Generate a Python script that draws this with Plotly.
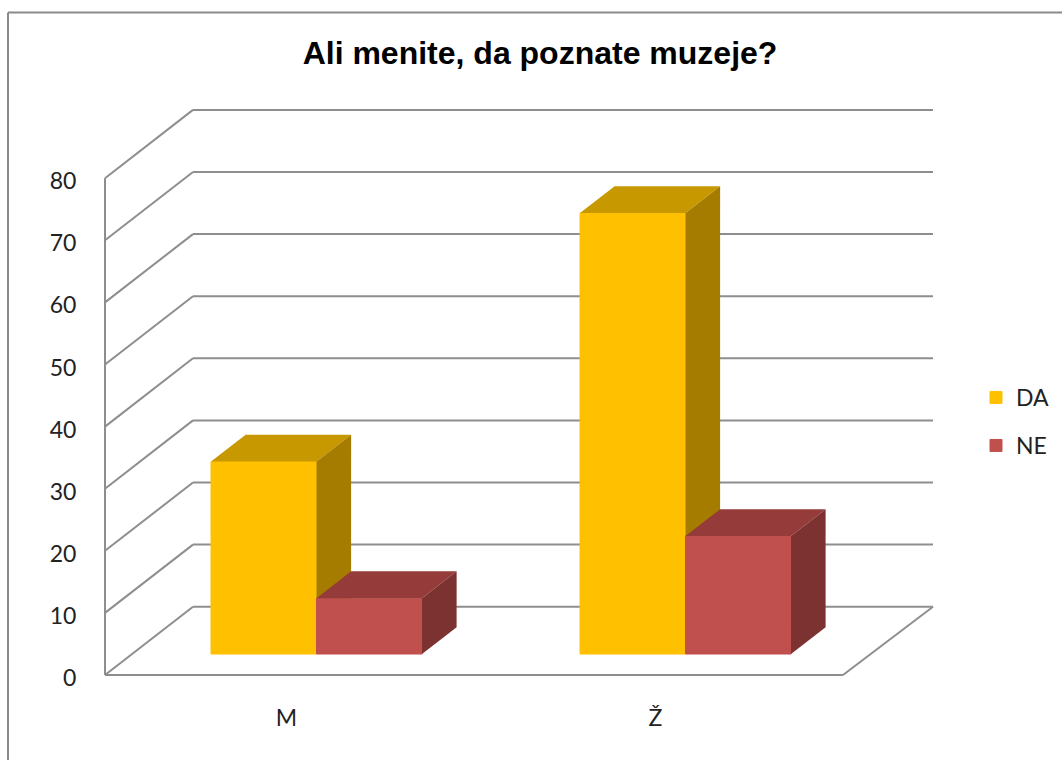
import plotly.graph_objects as go

# Data
categories = ["M", "Ž"]
series_names = ["DA", "NE"]
da_values = [31, 71]
ne_values = [9, 19]
y_ticks = [0, 10, 20, 30, 40, 50, 60, 70, 80]
title_text = "Ali menite, da poznate muzeje?"

# Pixel layout of the plot box (slightly larger than the drawn frame, so edge lines are not clipped)
W, H = 1062, 760
L, R, T, B = 100, 940, 100, 680
ZERO_PX, CAT0_PX = 675, 289.5
PX_PER_UNIT = 6.21
PX_PER_CAT = 369
# Pseudo-3D depth of the wall, in data units
DEPTH_X = 88 / PX_PER_CAT
DEPTH_Y = 68.3 / PX_PER_UNIT
BAR_D0 = 0.307      # depth of bar front face
BAR_D1 = 0.70       # depth of bar back face
BAR_W = 105.5 / PX_PER_CAT

y_lo = (ZERO_PX - B) / PX_PER_UNIT
y_hi = (ZERO_PX - T) / PX_PER_UNIT
x_lo = (L - CAT0_PX) / PX_PER_CAT
x_hi = (R - CAT0_PX) / PX_PER_CAT
front_x_lo, front_x_hi = -0.5, 1.5
back_extra = 2 / PX_PER_CAT


def proj(x, v, d):
    return x + d * DEPTH_X, v + d * DEPTH_Y


GRID = "#8e8e8e"
shapes = []


def seg(p, q, width=2):
    shapes.append(dict(type="line", layer="below", xref="x", yref="y",
                       x0=p[0], y0=p[1], x1=q[0], y1=q[1],
                       line=dict(color=GRID, width=width)))


for t in y_ticks:
    seg(proj(front_x_lo, t, 0), proj(front_x_lo, t, 1))
    seg(proj(front_x_lo, t, 1), proj(front_x_hi + back_extra, t, 1))
seg(proj(front_x_lo, 0, 0), proj(front_x_lo, y_ticks[-1], 0))
seg(proj(front_x_lo, 0, 0), proj(front_x_hi, 0, 0))
seg(proj(front_x_hi, 0, 0), proj(front_x_hi + back_extra, 0, 1))

# Outer chart frame (top and left edges visible)
fx = lambda px: (px - L) / (R - L)
fy = lambda py: (B - py) / (B - T)
for x0, y0, x1, y1 in [(8, 12.5, W, 12.5), (8, 12.5, 8, H)]:
    shapes.append(dict(type="line", xref="paper", yref="paper",
                       x0=fx(x0), y0=fy(y0), x1=fx(x1), y1=fy(y1),
                       line=dict(color="#8a8a8a", width=2)))

base_level = BAR_D0 * DEPTH_Y
shift = BAR_D0 * DEPTH_X
styles = [
    dict(name=series_names[0], vals=da_values, off=-BAR_W / 2, front="#FFC000",
         top="#C89800", side="#A67C00", xa="x", ya="y", legend="legend"),
    dict(name=series_names[1], vals=ne_values, off=BAR_W / 2, front="#C0504D",
         top="#953B39", side="#7C3230", xa="x2", ya="y2", legend="legend2"),
]

fig = go.Figure()
for s in styles:
    xs = [i + shift + s["off"] for i in range(len(categories))]
    fig.add_trace(go.Bar(x=xs, y=s["vals"], base=base_level, width=BAR_W, name=s["name"],
                         legend=s["legend"],
                         marker=dict(color=s["front"], line=dict(width=1, color=s["front"])),
                         xaxis=s["xa"], yaxis=s["ya"], hoverinfo="skip"))
    dd = BAR_D1 - BAR_D0
    for xc, v in zip(xs, s["vals"]):
        xl, xr = xc - BAR_W / 2, xc + BAR_W / 2
        top = base_level + v
        dx, dy = dd * DEPTH_X, dd * DEPTH_Y
        faces = [
            ([xl, xr, xr + dx, xl + dx, xl], [top, top, top + dy, top + dy, top], s["top"]),
            ([xr, xr + dx, xr + dx, xr, xr],
             [base_level, base_level + dy, top + dy, top, base_level], s["side"]),
        ]
        for fxs, fys, col in faces:
            fig.add_trace(go.Scatter(x=fxs, y=fys, mode="lines", fill="toself", fillcolor=col,
                                     line=dict(width=0, color=col), showlegend=False,
                                     hoverinfo="skip", xaxis=s["xa"], yaxis=s["ya"]))

LABEL = dict(family="Lato, Carlito, sans-serif", size=23, color="#222222")
legend_common = dict(x=fx(976), xanchor="left", yanchor="top", font=LABEL,
                     bgcolor="rgba(0,0,0,0)")
fig.update_layout(
    width=W, height=H, autosize=False,
    margin=dict(l=L, r=W - R, t=T, b=H - B, pad=0, autoexpand=False),
    paper_bgcolor="white", plot_bgcolor="rgba(0,0,0,0)",
    barmode="overlay", shapes=shapes,
    title=dict(text=f"<b>{title_text}</b>", x=540 / W, xanchor="center", y=1 - 53 / H,
               yanchor="middle", yref="container",
               font=dict(family="Liberation Sans, Arial, sans-serif", size=32, color="#000000")),
    xaxis=dict(range=[x_lo, x_hi], tickmode="array", tickvals=list(range(len(categories))),
               ticktext=categories, showgrid=False, zeroline=False, showline=False,
               ticks="outside", ticklen=17, tickcolor="rgba(0,0,0,0)", tickfont=LABEL,
               ticklabelshift=-3),
    yaxis=dict(range=[y_lo, y_hi], tickmode="array", tickvals=y_ticks, showgrid=False,
               zeroline=False, showline=False, ticks="outside", ticklen=18,
               tickcolor="rgba(0,0,0,0)", tickfont=LABEL, ticklabelshift=3),
    xaxis2=dict(range=[x_lo, x_hi], overlaying="x", visible=False),
    yaxis2=dict(range=[y_lo, y_hi], overlaying="y", visible=False),
    legend=dict(y=fy(376), **legend_common),
    legend2=dict(y=fy(424), **legend_common),
)
fig.write_html("out.html", config={"displayModeBar": False},
               post_script="document.body.style.margin='0';")
